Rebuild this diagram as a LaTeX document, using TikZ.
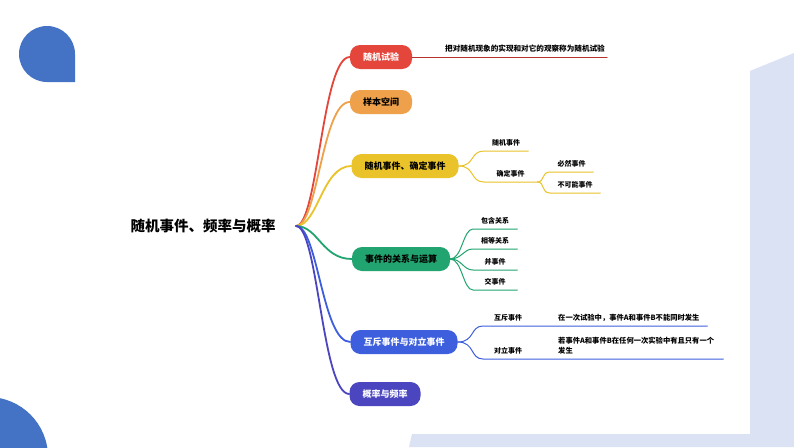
\documentclass[tikz,border=0pt]{standalone}
\usepackage{fontspec}
\setmainfont{Noto Sans CJK SC}
\definecolor{cRed}{HTML}{E4463B}
\definecolor{cRedLine}{HTML}{B8322C}
\definecolor{cOrange}{HTML}{EFA04A}
\definecolor{cYellow}{HTML}{EAC32A}
\definecolor{cGreen}{HTML}{21A46F}
\definecolor{cBlue}{HTML}{3E5FDD}
\definecolor{cIndigo}{HTML}{4B46C0}
\definecolor{bgBlue}{HTML}{DAE2F3}
\definecolor{dropBlue}{HTML}{4472C4}

\begin{document}
\begin{tikzpicture}[x=1pt,y=-1pt,line cap=round,
  topic/.style={rounded corners=10pt,minimum height=24pt,inner xsep=13pt,
    font=\fontsize{9}{10}\selectfont\bfseries},
  leaf/.style={anchor=south west,inner xsep=0pt,inner ysep=4.5pt,
    font=\fontsize{7}{8}\selectfont\bfseries},
  note/.style={anchor=south west,inner xsep=2pt,inner ysep=4.5pt,align=left,
    font=\fontsize{7.3}{10}\selectfont\bfseries},
  branch/.style={line width=1.8pt},
  twig/.style={line width=1pt}]
% page and background card
\useasboundingbox (0,0) rectangle (794,447);
\fill[white] (0,0) rectangle (794,447);
\fill[bgBlue] (750,71) -- (794,53) -- (794,447) -- (409,447) -- (412,434)
  -- (750,434) -- cycle;
% blue decorations
\fill[dropBlue] (75,54) -- (75,82) -- (47,82) arc[start angle=90,end angle=360,radius=28] -- cycle;
\fill[dropBlue] (-12,457) circle[radius=60];

% root
\node[font=\fontsize{14.5}{16}\selectfont\bfseries] (root) at (203,226) {随机事件、频率与概率};
\coordinate (hub) at (296,226);

% main topics
\node[topic,fill=cRed,text=white] (t1) at (381,57) {随机试验};
\node[topic,fill=cOrange] (t2) at (381,102) {样本空间};
\node[topic,fill=cYellow] (t3) at (405,166) {随机事件、确定事件};
\node[topic,fill=cGreen] (t4) at (401,259) {事件的关系与运算};
\node[topic,fill=cBlue,text=white] (t5) at (404,342) {互斥事件与对立事件};
\node[topic,fill=cIndigo,text=white] (t6) at (385,394) {概率与频率};

% branches from the root
\draw[branch,cRed] (hub) .. controls (318,226) and (322,57) .. (t1.west);
\draw[branch,cOrange] (hub) .. controls (318,226) and (322,102) .. (t2.west);
\draw[branch,cYellow] (hub) .. controls (318,226) and (322,166) .. (t3.west);
\draw[branch,cGreen] (hub) .. controls (318,226) and (322,259) .. (t4.west);
\draw[branch,cBlue] (hub) .. controls (318,226) and (322,342) .. (t5.west);
\draw[branch,cIndigo] (hub) .. controls (318,226) and (322,394) .. (t6.west);

% random experiment
\node[note,anchor=south east,font=\fontsize{7.6}{10}\selectfont\bfseries] (n0) at (607,57)
  {把对随机现象的实现和对它的观察称为随机试验};
\draw[twig,cRedLine] (t1.east) -- (n0.south east);

% random / certain events
\node[leaf,minimum width=44pt] (s1) at (484,151) {随机事件};
\node[leaf,minimum width=53pt] (s2) at (484,182) {确定事件};
\node[leaf,minimum width=43pt] (s3) at (550,172) {必然事件};
\node[leaf,minimum width=50pt] (s4) at (550,193) {不可能事件};
\draw[twig,cYellow] (t3.east) .. controls (475,166) and (470,151) .. (s1.south west) -- (s1.south east);
\draw[twig,cYellow] (t3.east) .. controls (475,166) and (470,182) .. (s2.south west) -- (s2.south east);
\draw[twig,cYellow] (s2.south east) .. controls (545,182) and (541,172) .. (s3.south west) -- (s3.south east);
\draw[twig,cYellow] (s2.south east) .. controls (545,182) and (541,193) .. (s4.south west) -- (s4.south east);

% relations of events
\node[leaf,minimum width=44pt] (g1) at (473,229) {包含关系};
\node[leaf,minimum width=44pt] (g2) at (473,249) {相等关系};
\node[leaf,minimum width=44pt] (g3) at (473,270) {并事件};
\node[leaf,minimum width=44pt] (g4) at (473,290) {交事件};
\foreach \g in {g1,g2,g3,g4}
  \draw[twig,cGreen] (t4.east) .. controls +(12,0) and +(-10,0) .. (\g.south west) -- (\g.south east);

% exclusive and opposite events
\node[leaf,minimum width=50pt] (b1) at (483,326) {互斥事件};
\node[leaf,minimum width=50pt] (b2) at (483,359) {对立事件};
\node[note,text width=147pt] (n1) at (556,326) {在一次试验中，事件A和事件B不能同时发生};
\node[note,text width=163pt] (n2) at (556,359) {若事件A和事件B在任何一次实验中有且只有一个\\发生};
\draw[twig,cBlue] (t5.east) .. controls (475,342) and (470,326) .. (b1.south west) -- (n1.south east);
\draw[twig,cBlue] (t5.east) .. controls (475,342) and (470,359) .. (b2.south west) -- (n2.south east);
\end{tikzpicture}
\end{document}
